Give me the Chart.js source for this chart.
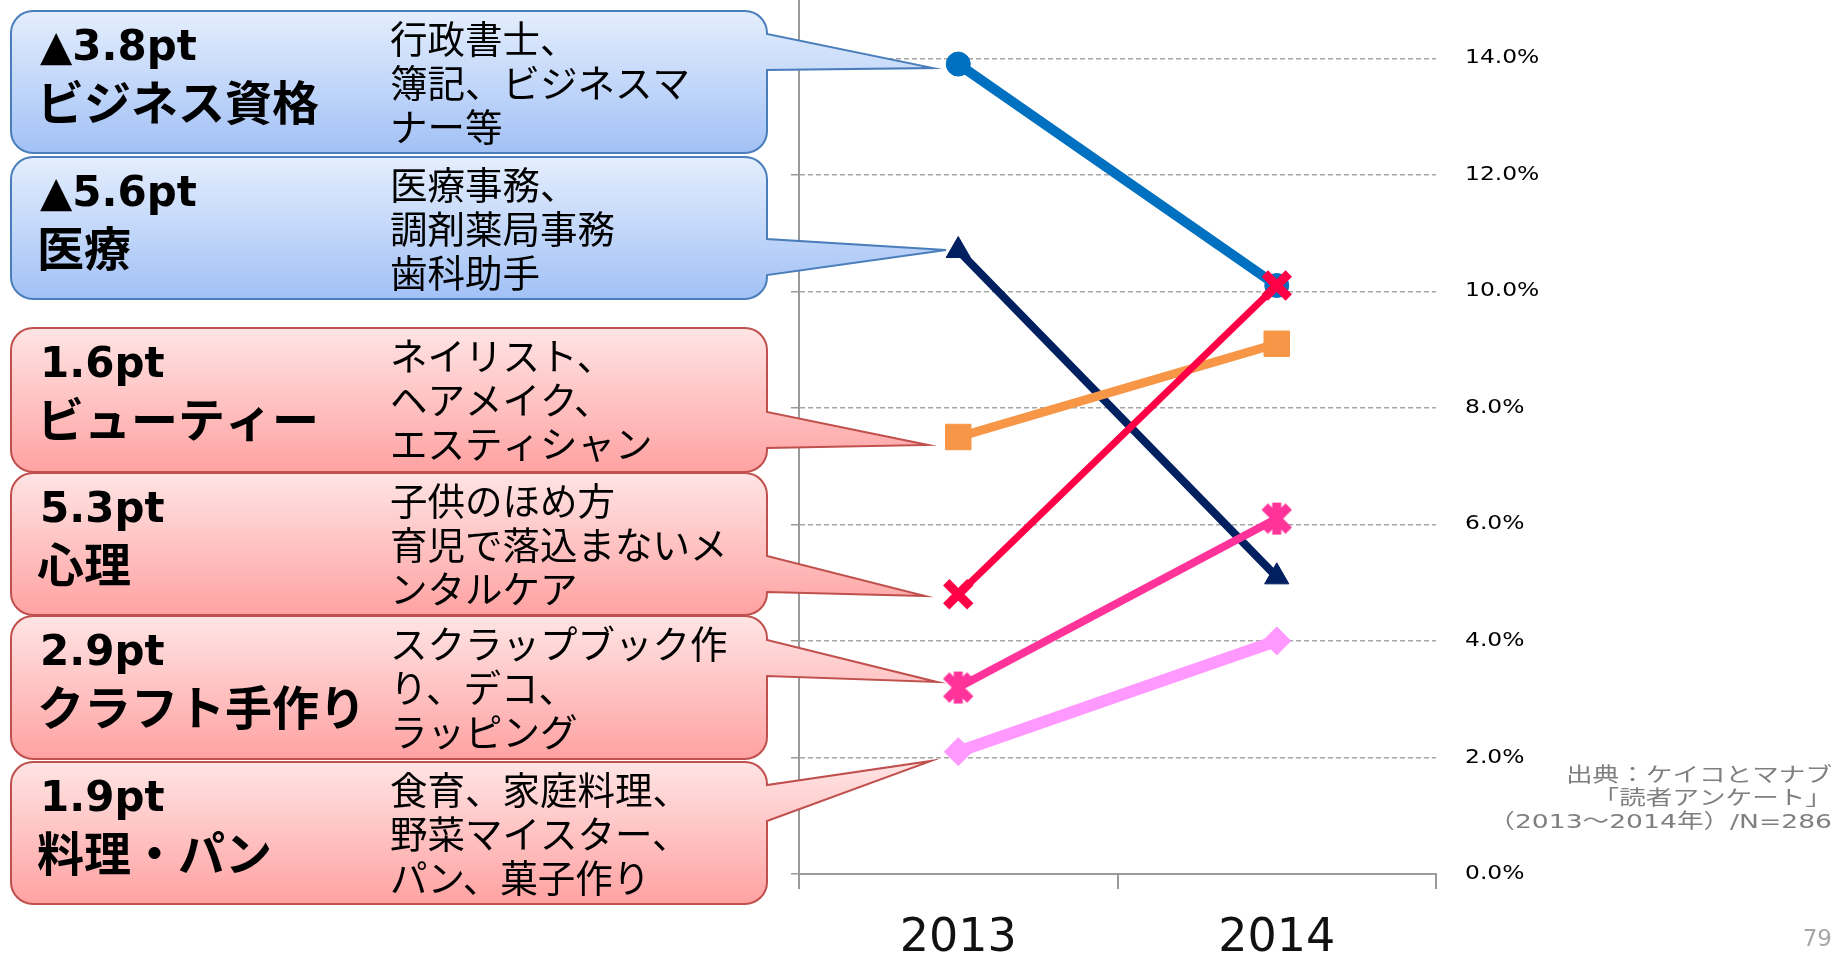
<!DOCTYPE html>
<html lang="ja">
<head>
<meta charset="utf-8">
<title>講座ジャンル別 受講意向 2013-2014</title>
<script src="https://cdn.jsdelivr.net/npm/chart.js@4.4.1/dist/chart.umd.min.js"></script>
<style>
    html, body { margin: 0; padding: 0; background: #ffffff; }
    #wrap { width: 1835px; height: 966px; }
</style>
</head>
<body>
<div id="wrap"><canvas id="slopeChart" width="1835" height="966"></canvas></div>
<script>
// Survey years on the category axis
const years = ['2013', '2014'];

// Share of respondents per course genre (%)
const business = [13.9, 10.1];
const medical = [10.7, 5.1];
const beauty = [7.5, 9.1];
const psychology = [4.8, 10.1];
const craft = [3.2, 6.1];
const cooking = [2.1, 4.0];

// Value axis ticks
const yTickValues = [0, 2, 4, 6, 8, 10, 12, 14];

// Genre names and example courses shown in the callouts
const genreNames = ['ビジネス資格', '医療', 'ビューティー', '心理', 'クラフト手作り', '料理・パン'];
const genreExamples = [
    ['行政書士、', '簿記、ビジネスマ', 'ナー等'],
    ['医療事務、', '調剤薬局事務', '歯科助手'],
    ['ネイリスト、', 'ヘアメイク、', 'エスティシャン'],
    ['子供のほめ方', '育児で落込まないメ', 'ンタルケア'],
    ['スクラップブック作', 'り、デコ、', 'ラッピング'],
    ['食育、家庭料理、', '野菜マイスター、', 'パン、菓子作り']
];

const sourceLines = ['出典：ケイコとマナブ', '「読者アンケート」', '（2013～2014年）/N=286'];
const pageNumber = '79';

const allSeries = [business, medical, beauty, psychology, craft, cooking];

// Line styling, one entry per genre
const lineColors = ['#0070C0', '#002060', '#F79646', '#FF0046', '#FF3399', '#FF99FF'];
const lineWidths = [10, 8, 9, 7, 8, 12];
const pointRadii = [12, 14, 18, 17, 16, 14];

const axisGrey = '#9A9A9A';

// Callout boxes on the left (layout only)
const callouts = [
    { top: 11, bottom: 153, baseTop: 34, baseBottom: 70, tipX: 933, tipY: 68, tone: 'blue' },
    { top: 157, bottom: 299, baseTop: 239, baseBottom: 275, tipX: 946, tipY: 250, tone: 'blue' },
    { top: 328, bottom: 472, baseTop: 412, baseBottom: 448, tipX: 928, tipY: 445, tone: 'red' },
    { top: 473, bottom: 615, baseTop: 556, baseBottom: 592, tipX: 925, tipY: 596, tone: 'red' },
    { top: 616, bottom: 759, baseTop: 640, baseBottom: 676, tipX: 937, tipY: 682, tone: 'red' },
    { top: 762, bottom: 904, baseTop: 785, baseBottom: 821, tipX: 931, tipY: 761, tone: 'red' }
];

const tones = {
    blue: { top: '#E4EEFD', bottom: '#A2C1F6', border: '#4A7EBB' },
    red: { top: '#FFE4E4', bottom: '#FFA2A2', border: '#C0504D' }
};

// Asterisk marker (X with a vertical bar)
function makeStarMarker(color) {
    const c = document.createElement('canvas');
    c.width = 40;
    c.height = 40;
    const g = c.getContext('2d');
    g.strokeStyle = color;
    g.lineWidth = 9;
    g.beginPath();
    g.moveTo(8, 8); g.lineTo(32, 32);
    g.moveTo(32, 8); g.lineTo(8, 32);
    g.moveTo(20, 4); g.lineTo(20, 36);
    g.stroke();
    return c;
}

const pointStyles = ['circle', 'triangle', 'rect', 'crossRot', makeStarMarker(lineColors[4]), 'rectRot'];

// Change between the two years, "▲" marks a decrease
function ptLabel(series) {
    const diff = series[1] - series[0];
    return (diff < 0 ? '▲' : '') + Math.abs(diff).toFixed(1) + 'pt';
}

// Rounded box with a pointer on its right edge
function calloutPath(ctx, c, left, right, r) {
    ctx.beginPath();
    ctx.moveTo(left + r, c.top);
    ctx.lineTo(right - r, c.top);
    ctx.arcTo(right, c.top, right, c.top + r, r);
    ctx.lineTo(right, c.baseTop);
    ctx.lineTo(c.tipX, c.tipY);
    ctx.lineTo(right, c.baseBottom);
    ctx.lineTo(right, c.bottom - r);
    ctx.arcTo(right, c.bottom, right - r, c.bottom, r);
    ctx.lineTo(left + r, c.bottom);
    ctx.arcTo(left, c.bottom, left, c.bottom - r, r);
    ctx.lineTo(left, c.top + r);
    ctx.arcTo(left, c.top, left + r, c.top, r);
    ctx.closePath();
}

const calloutPlugin = {
    id: 'callouts',
    beforeDatasetsDraw(chart) {
        const ctx = chart.ctx;
        const left = 11, right = 767;
        callouts.forEach((c, i) => {
            const tone = tones[c.tone];
            const grad = ctx.createLinearGradient(0, c.top, 0, c.bottom);
            grad.addColorStop(0, tone.top);
            grad.addColorStop(1, tone.bottom);

            ctx.save();
            calloutPath(ctx, c, left, right, 22);
            ctx.fillStyle = grad;
            ctx.fill();
            ctx.lineWidth = 2;
            ctx.strokeStyle = tone.border;
            ctx.stroke();

            // Headline: change in points and genre name
            ctx.fillStyle = '#000000';
            ctx.textBaseline = 'middle';
            ctx.textAlign = 'left';
            ctx.font = 'bold 42px "DejaVu Sans", "Noto Sans CJK JP", sans-serif';
            ctx.fillText(ptLabel(allSeries[i]), 40, c.top + 38);
            ctx.font = 'bold 47px "Noto Sans CJK JP", sans-serif';
            ctx.fillText(genreNames[i], 37, c.top + 91);

            // Example courses
            ctx.font = '37.5px "Noto Sans CJK JP", sans-serif';
            genreExamples[i].forEach((line, k) => {
                ctx.fillText(line, 390, c.top + 28 + k * 44);
            });
            ctx.restore();
        });
    },
    afterDraw(chart) {
        const ctx = chart.ctx;
        const yScale = chart.scales.y;

        // Value labels sit to the right of the plot
        yScale.ticks.forEach(t => {
            const py = yScale.getPixelForValue(t.value);
            ctx.save();
            ctx.translate(chart.chartArea.right + 29, py);
            ctx.scale(1.2, 1);
            ctx.font = '19.5px "DejaVu Sans", sans-serif';
            ctx.fillStyle = '#000000';
            ctx.textBaseline = 'middle';
            ctx.textAlign = 'left';
            ctx.fillText(t.value.toFixed(1) + '%', 0, 0);
            ctx.restore();
        });

        // Source note
        sourceLines.forEach((line, k) => {
            ctx.save();
            ctx.translate(1832, 777 + k * 23);
            ctx.scale(1.33, 1);
            ctx.font = '20px "DejaVu Sans", "Noto Sans CJK JP", sans-serif';
            ctx.fillStyle = '#7F7F7F';
            ctx.textBaseline = 'middle';
            ctx.textAlign = 'right';
            ctx.fillText(line, 0, 0);
            ctx.restore();
        });

        // Page number
        ctx.save();
        ctx.font = '23px "DejaVu Sans", sans-serif';
        ctx.fillStyle = '#A6A6A6';
        ctx.textBaseline = 'middle';
        ctx.textAlign = 'right';
        ctx.fillText(pageNumber, 1832, 940);
        ctx.restore();
    }
};

// Build one line dataset per genre
const datasets = allSeries.map((series, i) => ({
    label: genreNames[i],
    data: series,
    borderColor: lineColors[i],
    backgroundColor: lineColors[i],
    borderWidth: lineWidths[i],
    pointStyle: pointStyles[i],
    pointRadius: pointRadii[i],
    pointBackgroundColor: lineColors[i],
    pointBorderColor: lineColors[i],
    pointBorderWidth: pointStyles[i] === 'crossRot' ? 9 : 1,
    tension: 0,
    fill: false,
    clip: false,
    order: allSeries.length - i
}));

const ctx = document.getElementById('slopeChart').getContext('2d');
new Chart(ctx, {
    type: 'line',
    data: { labels: years, datasets: datasets },
    options: {
        responsive: false,
        animation: false,
        layout: {
            autoPadding: false,
            padding: { left: 791, right: 399, top: 0, bottom: 0 }
        },
        plugins: {
            legend: { display: false },
            tooltip: { enabled: false }
        },
        scales: {
            x: {
                offset: true,
                // keep the year band to a fixed height under the plot
                afterFit: scale => { scale.height = 92; },
                grid: {
                    display: true,
                    drawOnChartArea: false,
                    offset: true,
                    tickLength: 15,
                    color: axisGrey,
                    lineWidth: 2
                },
                border: { display: true, color: axisGrey, width: 2 },
                ticks: {
                    padding: 22,
                    color: '#111111',
                    font: { family: '"DejaVu Sans", sans-serif', size: 46 }
                }
            },
            y: {
                position: 'left',
                min: 0,
                max: 15,
                afterBuildTicks: scale => {
                    scale.ticks = yTickValues.map(v => ({ value: v }));
                },
                grid: {
                    color: '#A6A6A6',
                    lineWidth: 1.5,
                    drawTicks: true,
                    tickLength: 8,
                    tickColor: axisGrey
                },
                border: { display: true, color: axisGrey, width: 2, dash: [5, 3] },
                ticks: { display: false }
            }
        }
    },
    plugins: [calloutPlugin]
});
</script>
</body>
</html>
